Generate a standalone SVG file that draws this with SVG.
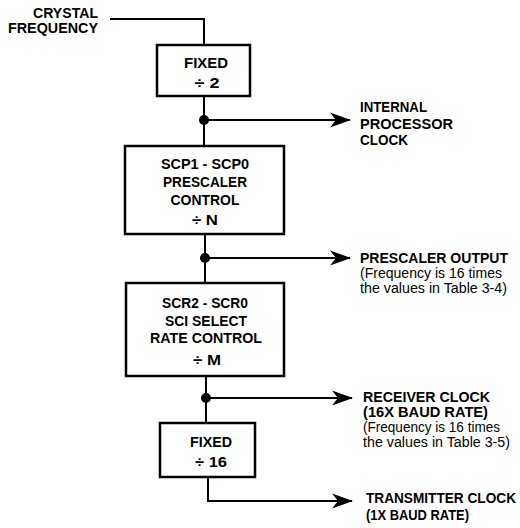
<svg xmlns="http://www.w3.org/2000/svg" width="520" height="528" viewBox="0 0 520 528">
<style>
  .box { fill: #ffffff; stroke: #000000; stroke-width: 2.5; }
  .wire { fill: none; stroke: #000000; stroke-width: 2; }
  .dot { fill: #000000; }
  text { font-family: "Liberation Sans", Arial, Helvetica, sans-serif; font-size: 14px; fill: #000000; }
  .b { font-weight: bold; }
  .n { font-weight: normal; }
  .c { text-anchor: middle; }
  .r { text-anchor: end; }
</style>
<defs>
  <marker id="arrow" viewBox="0 0 22 16" refX="21" refY="8" markerWidth="22" markerHeight="16" markerUnits="userSpaceOnUse" orient="auto">
    <path d="M1,0.5 L22,8 L1,15.5 L7,8 Z" fill="#000000"/>
  </marker>
</defs>
<rect width="520" height="528" fill="#ffffff"/>

<g id="connectors">
  <path class="wire" d="M110,19 H204 V45"/>
  <path class="wire" d="M204,96 V146"/>
  <path class="wire" d="M204,120 H350" marker-end="url(#arrow)"/>
  <path class="wire" d="M205,234 V283"/>
  <path class="wire" d="M205,258 H350" marker-end="url(#arrow)"/>
  <path class="wire" d="M206,376 V423"/>
  <path class="wire" d="M206,398 H352" marker-end="url(#arrow)"/>
  <path class="wire" d="M208,477 V501 H352" marker-end="url(#arrow)"/>
  <circle class="dot" cx="204" cy="120" r="5"/>
  <circle class="dot" cx="205" cy="258" r="5"/>
  <circle class="dot" cx="206" cy="398" r="5"/>
</g>

<g id="crystal-frequency">
  <text class="b r" x="98" y="18" textLength="65" lengthAdjust="spacingAndGlyphs">CRYSTAL</text>
  <text class="b r" x="98" y="33" textLength="90" lengthAdjust="spacingAndGlyphs">FREQUENCY</text>
</g>

<g id="fixed-div2">
  <rect class="box" x="157" y="45" width="93" height="51"/>
  <text class="b c" x="206" y="68" textLength="44" lengthAdjust="spacingAndGlyphs">FIXED</text>
  <text class="b c" x="207" y="88" textLength="25" lengthAdjust="spacingAndGlyphs">÷ 2</text>
</g>

<g id="prescaler-control">
  <rect class="box" x="125" y="146" width="159" height="88"/>
  <text class="b c" x="205" y="169" textLength="88" lengthAdjust="spacingAndGlyphs">SCP1 - SCP0</text>
  <text class="b c" x="205" y="187" textLength="84" lengthAdjust="spacingAndGlyphs">PRESCALER</text>
  <text class="b c" x="205" y="205" textLength="69" lengthAdjust="spacingAndGlyphs">CONTROL</text>
  <text class="b c" x="205" y="225" textLength="26" lengthAdjust="spacingAndGlyphs">÷ N</text>
</g>

<g id="sci-select-rate-control">
  <rect class="box" x="126" y="283" width="158" height="93"/>
  <text class="b c" x="205" y="308" textLength="86" lengthAdjust="spacingAndGlyphs">SCR2 - SCR0</text>
  <text class="b c" x="206" y="326" textLength="82" lengthAdjust="spacingAndGlyphs">SCI SELECT</text>
  <text class="b c" x="206" y="343" textLength="112" lengthAdjust="spacingAndGlyphs">RATE CONTROL</text>
  <text class="b c" x="207" y="365" textLength="28" lengthAdjust="spacingAndGlyphs">÷ M</text>
</g>

<g id="fixed-div16">
  <rect class="box" x="160" y="423" width="95" height="54"/>
  <text class="b c" x="211" y="447" textLength="42" lengthAdjust="spacingAndGlyphs">FIXED</text>
  <text class="b c" x="211" y="467" textLength="32" lengthAdjust="spacingAndGlyphs">÷ 16</text>
</g>

<g id="internal-processor-clock">
  <text class="b" x="360" y="112" textLength="67" lengthAdjust="spacingAndGlyphs">INTERNAL</text>
  <text class="b" x="360" y="129" textLength="93" lengthAdjust="spacingAndGlyphs">PROCESSOR</text>
  <text class="b" x="360" y="145" textLength="48" lengthAdjust="spacingAndGlyphs">CLOCK</text>
</g>

<g id="prescaler-output">
  <text class="b" x="360" y="263" textLength="148" lengthAdjust="spacingAndGlyphs">PRESCALER OUTPUT</text>
  <text class="n" x="360" y="278" textLength="142" lengthAdjust="spacingAndGlyphs">(Frequency is 16 times</text>
  <text class="n" x="360" y="293" textLength="147" lengthAdjust="spacingAndGlyphs">the values in Table 3-4)</text>
</g>

<g id="receiver-clock">
  <text class="b" x="363" y="402" textLength="127" lengthAdjust="spacingAndGlyphs">RECEIVER CLOCK</text>
  <text class="b" x="363" y="417" textLength="125" lengthAdjust="spacingAndGlyphs">(16X BAUD RATE)</text>
  <text class="n" x="363" y="432" textLength="137" lengthAdjust="spacingAndGlyphs">(Frequency is 16 times</text>
  <text class="n" x="363" y="447" textLength="147" lengthAdjust="spacingAndGlyphs">the values in Table 3-5)</text>
</g>

<g id="transmitter-clock">
  <text class="b" x="366" y="503" textLength="150" lengthAdjust="spacingAndGlyphs">TRANSMITTER CLOCK</text>
  <text class="b" x="366" y="520" textLength="103" lengthAdjust="spacingAndGlyphs">(1X BAUD RATE)</text>
</g>
</svg>
